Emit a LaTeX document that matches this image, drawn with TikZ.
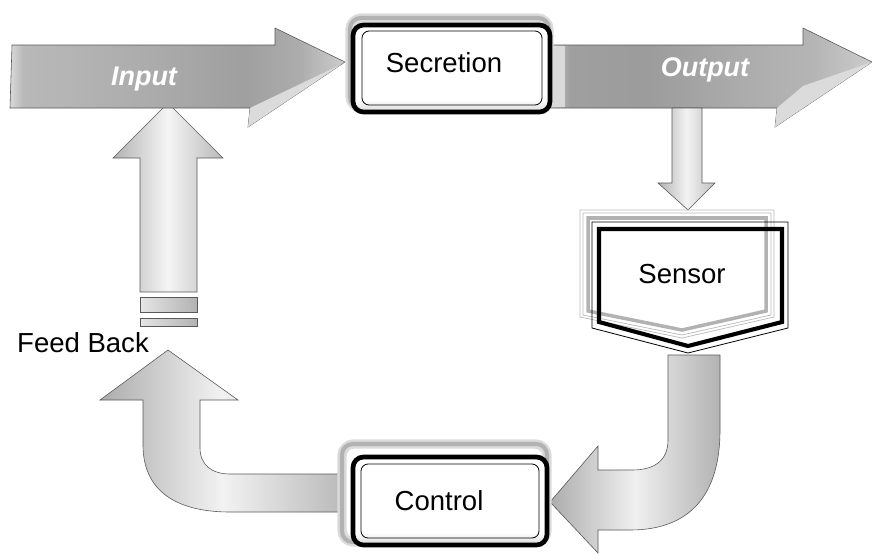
\documentclass[tikz,border=0pt]{standalone}
\usepackage{fontspec}
\setmainfont{Liberation Sans}
\pgfdeclarehorizontalshading{inshade}{100bp}{color(0bp)=(gray!30); color(25bp)=(gray!30); color(27bp)=(gray!55); color(45bp)=(gray!65); color(60bp)=(gray!75); color(68bp)=(gray!65); color(75bp)=(gray!40); color(100bp)=(gray!40)}
\pgfdeclarehorizontalshading{outshade}{100bp}{color(0bp)=(gray!35); color(25bp)=(gray!35); color(28bp)=(gray!75); color(40bp)=(gray!78); color(55bp)=(gray!65); color(66bp)=(gray!58); color(75bp)=(gray!40); color(100bp)=(gray!40)}
\pgfdeclareverticalshading{boxfill}{100bp}{color(0bp)=(gray!30); color(25bp)=(gray!30); color(32bp)=(white); color(100bp)=(white)}
\begin{document}
\begin{tikzpicture}[x=0.03cm,y=-0.03cm,
  lbl/.style={inner sep=0pt, anchor=base, font=\fontsize{23.5}{28}\selectfont},
  arrowlbl/.style={inner sep=0pt, anchor=base, text=white, font=\fontsize{23}{28}\selectfont\bfseries\itshape},
  aedge/.style={draw=gray!70!black, line width=0.5pt},
  haloA/.style={draw=gray!28, line width=8pt, rounded corners=10pt},
  haloB/.style={draw=gray!60, line width=3.5pt, rounded corners=9pt},
  boxfillst/.style={shading=boxfill, rounded corners=9pt},
  thickbox/.style={draw=black, line width=4pt, rounded corners=9pt},
  thinbox/.style={draw=black, line width=0.7pt, rounded corners=6pt},
  facet/.style={fill=gray!28},
  bar/.style={left color=gray!20, right color=gray!60, aedge}]
\useasboundingbox (0,0) rectangle (872,554);

% feedback up arrow with bars
\shadedraw[left color=gray!60, right color=gray!55, middle color=gray!8, aedge]
  (140,292) -- (140,158) -- (113,158) -- (168,103) -- (223,158) -- (197,158) -- (197,292) -- cycle;
\shadedraw[bar] (140,297) rectangle (197,312);
\shadedraw[bar] (140,318) rectangle (197,326);

% input arrow
\shadedraw[shading=inshade, aedge]
  (12,45) -- (275,45) -- (275,28) -- (345,62) -- (248,127) -- (250,108) -- (10,108) -- cycle;
\fill[facet] (250,108) -- (340,65) -- (345,62) -- (248,127) -- cycle;

% output arrow
\shadedraw[shading=outshade, aedge]
  (550,45) -- (803,45) -- (803,28) -- (872,62) -- (775,127) -- (777,108) -- (550,108) -- cycle;
\fill[facet] (777,108) -- (803,86) -- (872,62) -- (775,127) -- cycle;
\fill[gray!30] (550,46) rectangle (565,107);

% small down arrow
\shadedraw[left color=gray!60, right color=gray!50, middle color=gray!10, aedge]
  (672,108) -- (702,108) -- (702,183) -- (715,183) -- (688,210) -- (658,183) -- (672,183) -- cycle;

% secretion box
\draw[haloA] (350,18) rectangle (549,108);
\draw[haloB] (350,18) rectangle (549,108);
\shade[boxfillst] (353,25) rectangle (550,112);
\draw[thickbox] (353,25) rectangle (550,112);
\draw[thinbox] (362,31) rectangle (542,105);
\node[lbl] (secretion) at (444,72) {Secretion};

% arrow labels
\node[arrowlbl] (input) at (144,85) {Input};
\node[arrowlbl] (output) at (705,76) {Output};

% sensor
\draw[gray!55, line width=0.6pt] (580,210) -- (774,210) -- (774,317) -- (682,338) -- (580,317) -- cycle;
\draw[gray!55, line width=0.6pt] (583,213) -- (771,213) -- (771,315) -- (682,335) -- (583,315) -- cycle;
\draw[gray!60, line width=3pt] (588,218) -- (766,218) -- (766,311) -- (682,330) -- (588,311) -- cycle;
\draw[black, line width=0.7pt] (592,222) -- (788,222) -- (788,328) -- (688,353) -- (592,328) -- cycle;
\draw[black, line width=3.5pt] (599,229) -- (782,229) -- (782,322) -- (688,346) -- (599,322) -- cycle;
\node[lbl] (sensor) at (682,283) {Sensor};

% sensor -> control curved arrow
\shadedraw[left color=gray!65, right color=gray!60, middle color=gray!12, aedge]
  (668,355) -- (720,355) -- (720,430) .. controls (720,495) and (690,530) .. (630,530)
  -- (598,530) -- (598,553) -- (550,502) -- (598,446) -- (598,470) -- (632,470)
  .. controls (655,470) and (668,460) .. (668,440) -- cycle;

% control -> feedback curved arrow
\shadedraw[left color=gray!65, right color=gray!55, middle color=gray!10, aedge]
  (345,474) -- (345,512) -- (230,512) .. controls (175,512) and (143,490) .. (143,445)
  -- (143,400) -- (100,400) -- (168,350) -- (238,400) -- (200,400) -- (200,448)
  .. controls (200,465) and (212,474) .. (230,474) -- cycle;

% control box
\draw[haloA] (342,444) rectangle (547,542);
\draw[haloB] (342,444) rectangle (547,542);
\shade[boxfillst] (353,457) rectangle (547,545);
\draw[thickbox] (353,457) rectangle (547,545);
\draw[thinbox] (361,464) rectangle (539,538);
\node[lbl] (control) at (439,510) {Control};

\node[lbl] (feedback) at (83,352) {Feed Back};
\end{tikzpicture}
\end{document}
